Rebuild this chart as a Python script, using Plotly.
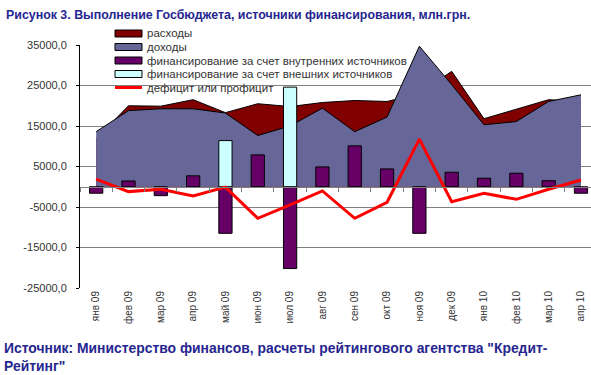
import plotly.graph_objects as go

months = ["янв 09", "фев 09", "мар 09", "апр 09", "май 09", "июн 09", "июл 09", "авг 09",
          "сен 09", "окт 09", "ноя 09", "дек 09", "янв 10", "фев 10", "мар 10", "апр 10"]
expenses = [11800, 20000, 19900, 21500, 18300, 20500, 19800, 20800,
            21300, 21060, 23000, 28500, 16800, 19200, 21500, 21000]
revenues = [13600, 18800, 19250, 19250, 18200, 12650, 15000, 19400,
            13600, 17200, 34700, 25200, 15300, 16100, 21060, 22700]
internal_fin = [-1600, 1430, -2200, 2700, -11500, 7870, -20200, 4900,
                10100, 4400, -11500, 3580, 2100, 3340, 1500, -1600]
external_fin = [None, None, None, None, 11400, None, 24600, None,
                None, None, None, None, None, None, None, None]
balance = [1900, -1200, -620, -2270, -100, -7800, -4500, -1040,
           -7800, -3840, 11750, -3700, -1610, -3100, -620, 1680]

series_names = ["расходы", "доходы", "финансирование за счет внутренних источников",
                "финансирование за счет внешних источников", "дефицит или профицит"]
y_ticks = [-25000, -15000, -5000, 5000, 15000, 25000, 35000]
y_tick_text = [f"{v},0" for v in y_ticks]

title_text = "Рисунок 3. Выполнение Госбюджета, источники финансирования, млн.грн."
source_text = "Источник: Министерство финансов, расчеты рейтингового агентства \"Кредит-<br>Рейтинг\""

C_EXP = "#800000"
C_REV = "#666699"
C_INT = "#660066"
C_EXT = "#CCFFFF"
C_BAL = "#FF0000"
FONT = "Liberation Sans, Arial, sans-serif"
TXT = "#333333"
NAVY = "#262690"

W, H = 591, 375
L, R, T, B = 80, 0, 45, 87
PW, PH = W - L - R, H - T - B
YMIN, YMAX = -25000, 35000
XR = [-0.5, 15.31]


def px(x):
    return (x - L) / PW


def py(y):
    return (H - B - y) / PH


fig = go.Figure()
fig.add_trace(go.Scatter(x=months, y=expenses, mode="lines", fill="tozeroy",
                         fillcolor=C_EXP, line=dict(color="#000000", width=1),
                         name=series_names[0], showlegend=False))
fig.add_trace(go.Scatter(x=months, y=revenues, mode="lines", fill="tozeroy",
                         fillcolor=C_REV, line=dict(color="#000000", width=1),
                         name=series_names[1], showlegend=False))
fig.add_trace(go.Bar(x=months, y=internal_fin, width=0.41, xaxis="x2",
                     marker=dict(color=C_INT, line=dict(color="#000000", width=1)),
                     name=series_names[2], showlegend=False))
fig.add_trace(go.Bar(x=months, y=external_fin, width=0.41, xaxis="x2",
                     marker=dict(color=C_EXT, line=dict(color="#000000", width=1)),
                     name=series_names[3], showlegend=False))
fig.add_trace(go.Scatter(x=months, y=balance, mode="lines", xaxis="x3",
                         line=dict(color=C_BAL, width=3), name=series_names[4], showlegend=False))

zero_pos = (0 - YMIN) / (YMAX - YMIN)

fig.update_layout(
    width=W, height=H,
    margin=dict(l=L, r=R, t=T, b=B),
    paper_bgcolor="white", plot_bgcolor="white",
    barmode="overlay",
    font=dict(family=FONT, color=TXT, size=11),
    xaxis=dict(type="category", categoryorder="array", categoryarray=months,
               range=XR, showgrid=False, zeroline=False, showline=False, ticks="",
               tickangle=-90, tickfont=dict(size=10, color=TXT, family=FONT)),
    xaxis2=dict(type="category", categoryorder="array", categoryarray=months,
                overlaying="x", anchor="free", position=zero_pos, range=XR,
                showgrid=False, zeroline=False, showline=True, linecolor="#808080",
                linewidth=1, ticks="outside", tickson="boundaries", ticklen=4,
                tickcolor="#808080", showticklabels=False),
    xaxis3=dict(type="category", categoryorder="array", categoryarray=months,
                overlaying="x", anchor="y", range=XR, visible=False),
    yaxis=dict(range=[YMIN, YMAX], tickvals=y_ticks, ticktext=y_tick_text,
               showgrid=True, gridcolor="#808080", gridwidth=1, zeroline=False,
               showline=True, linecolor="#000000", linewidth=1, ticks="outside",
               ticklen=3, tickcolor="#000000", ticklabelstandoff=7,
               tickfont=dict(size=11, color=TXT, family=FONT)),
)

shapes = []
annotations = []
leg_y = [33.5, 47, 60.5, 74, 87.5]
fills = [C_EXP, C_REV, C_INT, C_EXT]
for i, name in enumerate(series_names):
    yc = leg_y[i]
    if i < 4:
        shapes.append(dict(type="rect", xref="paper", yref="paper",
                           x0=px(115), x1=px(142), y0=py(yc + 3.5), y1=py(yc - 3.5),
                           fillcolor=fills[i], line=dict(color="#000000", width=1)))
    else:
        shapes.append(dict(type="line", xref="paper", yref="paper",
                           x0=px(115), x1=px(142), y0=py(yc), y1=py(yc),
                           line=dict(color=C_BAL, width=3)))
    annotations.append(dict(text=name, xref="paper", yref="paper", x=px(145), y=py(yc),
                            xanchor="left", yanchor="middle", showarrow=False,
                            font=dict(size=11.5, color=TXT, family=FONT)))

annotations.append(dict(text=f"<b>{title_text}</b>", xref="paper", yref="paper",
                        x=px(4), y=py(15), xanchor="left", yanchor="middle", showarrow=False,
                        font=dict(size=12.4, color=NAVY, family=FONT)))
annotations.append(dict(text=f"<b>{source_text}</b>", xref="paper", yref="paper",
                        x=px(2), y=py(338), xanchor="left", yanchor="top", showarrow=False,
                        align="left", font=dict(size=13.9, color=NAVY, family=FONT)))

fig.update_layout(shapes=shapes, annotations=annotations)
fig.write_html("out.html", config={"displayModeBar": False},
               post_script="document.body.style.margin='0';")
